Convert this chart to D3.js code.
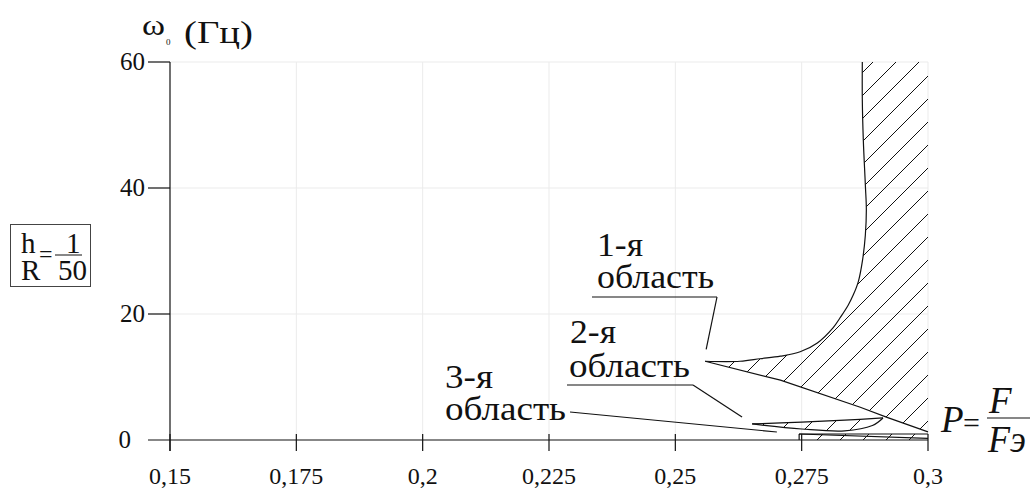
<!DOCTYPE html>
<html><head><meta charset="utf-8">
<script src="https://cdn.jsdelivr.net/npm/d3@7"></script>
<style>
html,body{margin:0;padding:0;background:#fff;}
</style></head>
<body>
<svg id="chart" width="1034" height="490"></svg>
<script>
// ---------- data ----------
const xTicks = [0.15, 0.175, 0.2, 0.225, 0.25, 0.275, 0.3];
const xTickLabels = ["0,15", "0,175", "0,2", "0,225", "0,25", "0,275", "0,3"];
const yTicks = [0, 20, 40, 60];
const yTickLabels = ["0", "20", "40", "60"];
// region 1 (upper boundary curve, lower boundary line)
const region1Top = [[0.2559,12.5],[0.2628,12.5],[0.2668,12.9],[0.2708,13.3],[0.2747,14.0],[0.2781,15.4],[0.2812,17.8],[0.2826,19.4],[0.2842,21.4],[0.2852,23.0],[0.2862,25.1],[0.2870,28.3],[0.2876,32.5],[0.2878,36.5],[0.2876,40.5],[0.2872,47.6],[0.2870,54.0],[0.2870,60.0]];
const region1Bottom = [[0.2559,12.5],[0.2708,9.5],[0.2866,5.2],[0.2919,3.6],[0.3,1.3]];
// region 2
const region2Top = [[0.2652,2.55],[0.2750,2.85],[0.2835,3.15],[0.2911,3.5]];
const region2Bottom = [[0.2652,2.55],[0.2750,1.75],[0.2835,1.45],[0.2890,2.3],[0.2911,3.5]];
// region 3
const region3Top = [[0.2745,0.95],[0.3,0.95]];
const region3Bottom = [[0.2745,0],[0.3,0]];
// leader-line targets (data units)
const leaderTargets = [[0.2561,14.4],[0.2632,3.65],[0.2701,1.27]];

// ---------- setup ----------
const svg = d3.select("#chart");
const FONT = "Liberation Serif";
const x = d3.scaleLinear().domain([0.15, 0.3]).range([170, 928]);
const y = d3.scaleLinear().domain([0, 60]).range([440, 62]);

// hatch pattern
const defs = svg.append("defs");
const pat = defs.append("pattern").attr("id","hatch").attr("patternUnits","userSpaceOnUse")
  .attr("x",15).attr("y",0).attr("width",23).attr("height",23);
pat.append("path").attr("d","M0,23 L23,0 M-3,3 L3,-3 M20,26 L26,20")
  .attr("stroke","#111").attr("stroke-width",1);

// grid
const grid = svg.append("g");
grid.selectAll("line.vx").data(xTicks.slice(1)).join("line")
  .attr("x1",d=>x(d)).attr("x2",d=>x(d)).attr("y1",y(60)).attr("y2",y(0))
  .attr("stroke","#ebebeb").attr("stroke-width",1);
grid.selectAll("line.hy").data(yTicks.slice(1)).join("line")
  .attr("x1",x(0.15)).attr("x2",x(0.3)).attr("y1",d=>y(d)).attr("y2",d=>y(d))
  .attr("stroke","#ebebeb").attr("stroke-width",1);

// ---------- regions ----------
const lineC = d3.line().x(d=>x(d[0])).y(d=>y(d[1])).curve(d3.curveCatmullRom.alpha(0.5));
const lineL = d3.line().x(d=>x(d[0])).y(d=>y(d[1]));
function joinPaths(a, b){ return a + b.replace(/^M/,"L"); }

const r1Fill = joinPaths(
  joinPaths(lineC(region1Top), lineL([[0.3,60],[0.3,region1Bottom[region1Bottom.length-1][1]]])),
  lineL(region1Bottom.slice().reverse())) + "Z";
svg.append("path").attr("d", r1Fill).attr("fill","url(#hatch)").attr("stroke","none");
const r2Fill = joinPaths(lineC(region2Top), lineC(region2Bottom.slice().reverse())) + "Z";
svg.append("path").attr("d", r2Fill).attr("fill","url(#hatch)").attr("stroke","none");
const r3Fill = joinPaths(lineL(region3Top), lineL(region3Bottom.slice().reverse())) + "Z";
svg.append("path").attr("d", r3Fill).attr("fill","url(#hatch)").attr("stroke","none");

const bstyle = s => s.attr("fill","none").attr("stroke","#111").attr("stroke-width",1.2);
svg.append("path").attr("d", lineC(region1Top)).call(bstyle);
svg.append("path").attr("d", lineL(region1Bottom)).call(bstyle);
svg.append("path").attr("d", lineC(region2Top)).call(bstyle);
svg.append("path").attr("d", lineC(region2Bottom)).call(bstyle);
svg.append("path").attr("d", lineL(region3Top)).call(bstyle);
svg.append("path").attr("d", lineL([region3Top[0], region3Bottom[0]])).call(bstyle);
svg.append("path").attr("d", lineL([region3Top[0], [0.3,0.25]])).call(bstyle);

// ---------- axes ----------
const ax = svg.append("g");
ax.append("line").attr("x1",x(0.15)).attr("x2",x(0.15)).attr("y1",y(60)).attr("y2",y(0)+11)
  .attr("stroke","#111").attr("stroke-width",1.2);
ax.append("line").attr("x1",x(0.15)-22).attr("x2",x(0.3)).attr("y1",y(0)).attr("y2",y(0))
  .attr("stroke","#111").attr("stroke-width",1.2);
ax.selectAll("line.yt").data(yTicks.slice(1)).join("line")
  .attr("x1",x(0.15)-22).attr("x2",x(0.15)).attr("y1",d=>y(d)).attr("y2",d=>y(d))
  .attr("stroke","#111").attr("stroke-width",1.2);
ax.selectAll("text.yl").data(yTicks).join("text")
  .attr("font-family",FONT)
  .attr("x",d=> d===0 ? x(0.15)-39 : x(0.15)-25).attr("y",d=>y(d)+8)
  .attr("text-anchor","end").attr("font-size",25).attr("fill","#111")
  .text((d,i)=>yTickLabels[i]);
ax.selectAll("line.xt").data(xTicks).join("line")
  .attr("x1",d=>x(d)).attr("x2",d=>x(d)).attr("y1",y(0)-6).attr("y2",y(0)+11)
  .attr("stroke","#111").attr("stroke-width",1.2);
ax.selectAll("text.xl").data(xTicks).join("text")
  .attr("font-family",FONT)
  .attr("x",d=>x(d)).attr("y",y(0)+44)
  .attr("text-anchor","middle").attr("font-size",24).attr("fill","#111")
  .text((d,i)=>xTickLabels[i]);

// ---------- helpers ----------
// parts: [x, y, text, fontSize, targetWidth]
function multi(parts, size, opts={}){
  parts.forEach(p=>{
    const e = svg.append("text").attr("x",p[0]).attr("y",p[1])
      .attr("font-size",p[3]||size).attr("font-family",FONT).attr("fill","#111").text(p[2]);
    if (opts.italic) e.attr("font-style","italic");
    if (p[4]) e.attr("textLength",p[4]).attr("lengthAdjust","spacingAndGlyphs");
  });
}
const ln = (x1,y1,x2,y2,w=1.2) => svg.append("line").attr("x1",x1).attr("y1",y1).attr("x2",x2).attr("y2",y2)
  .attr("stroke","#111").attr("stroke-width",w);

// ---------- title ----------
multi([[142,35,"ω",30,23],[166,45,"0",9],[184,43,"(Гц)",31,69]], 30);

// ---------- h/R box ----------
svg.append("rect").attr("x",10.5).attr("y",224.5).attr("width",80).attr("height",62)
  .attr("fill","none").attr("stroke","#444").attr("stroke-width",1);
multi([[21,253,"h",29],[21,280,"R",29],[39,262,"=",24],[66,253,"1",29],[58,280,"50",29]], 29);
ln(55, 255, 82, 255, 1);

// ---------- P = F / Fэ ----------
multi([[941,432,"P",37],[989,413,"F",37],[988,452,"Fэ",37,38]], 37, {italic:true});
multi([[963,433,"=",30]], 30);
ln(987, 418, 1030, 418);

// ---------- region labels ----------
multi([[597,256,"1-я",34,46],[597,288,"область",34,117]], 34);
ln(592, 297, 717, 297); ln(717, 297, x(leaderTargets[0][0]), y(leaderTargets[0][1]));
multi([[570,343,"2-я",34,46],[569,377,"область",34,121]], 34);
ln(567, 385, 693, 385); ln(693, 385, x(leaderTargets[1][0]), y(leaderTargets[1][1]));
multi([[445,388,"3-я",34,48],[445,420,"область",34,121]], 34);
ln(570, 412, x(leaderTargets[2][0]), y(leaderTargets[2][1]));
</script>
</body></html>
